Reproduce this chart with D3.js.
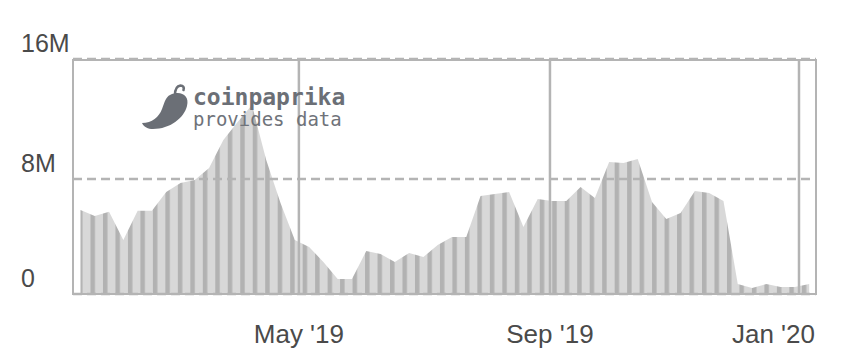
<!DOCTYPE html>
<html>
<head>
<meta charset="utf-8">
<script src="https://cdn.jsdelivr.net/npm/d3@7"></script>
<style>
  html, body { margin: 0; padding: 0; background: #fff; }
  svg { display: block; }
</style>
</head>
<body>
<svg id="chart" width="843" height="358"></svg>
<script>
// ---- data ----
const weeks = [
  "2019-01-14","2019-01-21","2019-01-28","2019-02-04","2019-02-11","2019-02-18","2019-02-25",
  "2019-03-04","2019-03-11","2019-03-18","2019-03-25","2019-04-01","2019-04-08","2019-04-15",
  "2019-04-22","2019-04-29","2019-05-06","2019-05-13","2019-05-20","2019-05-27","2019-06-03",
  "2019-06-10","2019-06-17","2019-06-24","2019-07-01","2019-07-08","2019-07-15","2019-07-22",
  "2019-07-29","2019-08-05","2019-08-12","2019-08-19","2019-08-26","2019-09-02","2019-09-09",
  "2019-09-16","2019-09-23","2019-09-30","2019-10-07","2019-10-14","2019-10-21","2019-10-28",
  "2019-11-04","2019-11-11","2019-11-18","2019-11-25","2019-12-02","2019-12-09","2019-12-16",
  "2019-12-23","2019-12-30","2020-01-06"
];
const volumeM = [
  5.93, 5.53, 5.82, 3.93, 5.89, 5.89, 7.13,
  7.73, 7.93, 8.73, 10.60, 11.80, 12.93, 9.27,
  6.40, 3.93, 3.47, 2.47, 1.33, 1.33, 3.20,
  3.00, 2.47, 3.07, 2.80, 3.60, 4.13, 4.13,
  6.87, 7.00, 7.13, 4.80, 6.67, 6.53, 6.53,
  7.47, 6.73, 9.13, 9.07, 9.33, 6.47, 5.33,
  5.73, 7.20, 7.07, 6.53, 1.00, 0.73, 1.00,
  0.80, 0.80, 1.00
];
const yTicks = [0, 8e6, 16e6];
const yTickLabels = ["0", "8M", "16M"];
const xTicks = ["2019-05-01", "2019-09-01", "2020-01-01"];
const xTickLabels = ["May '19", "Sep '19", "Jan '20"];
const xDomain = ["2019-01-10T08:00:00Z", "2020-01-09T08:00:00Z"];

// ---- layout ----
const svg = d3.select("#chart");
const L = 73, R = 816, T = 60, B = 294;
const parse = d3.utcParse("%Y-%m-%d");
const data = weeks.map((w, i) => ({ date: parse(w), value: volumeM[i] * 1e6 }));

const x = d3.scaleUtc().domain(xDomain.map(d => new Date(d))).range([L, R]);
const y = d3.scaleLinear().domain([0, 16e6]).range([299, 59]);
const yPos = d => Math.min(y(d), B);

const gridColor = "#b4b4b4";
const textColor = "#4a4a4a";

// stripes pattern
const defs = svg.append("defs");
const pat = defs.append("pattern")
  .attr("id", "stripes")
  .attr("patternUnits", "userSpaceOnUse")
  .attr("x", 78).attr("y", 0)
  .attr("width", 12.48).attr("height", 10);
pat.append("rect").attr("width", 12.48).attr("height", 10).attr("fill", "#d8d8d8");
pat.append("rect").attr("width", 4.5).attr("height", 10).attr("fill", "#b2b2b2");

defs.append("clipPath").attr("id", "plotClip")
  .append("rect").attr("x", L).attr("y", T).attr("width", R - L).attr("height", B - T);

// area
const area = d3.area()
  .x(d => x(d.date))
  .y0(y(0))
  .y1(d => y(d.value));

svg.append("path")
  .datum(data)
  .attr("d", area)
  .attr("fill", "url(#stripes)")
  .attr("clip-path", "url(#plotClip)");

// frame
svg.append("rect")
  .attr("x", L).attr("y", T).attr("width", R - L).attr("height", B - T)
  .attr("fill", "none").attr("stroke", gridColor).attr("stroke-width", 2);

// vertical gridlines
svg.append("g").selectAll("line")
  .data(xTicks.map(parse))
  .join("line")
  .attr("x1", d => x(d)).attr("x2", d => x(d))
  .attr("y1", T).attr("y2", B)
  .attr("stroke", gridColor).attr("stroke-width", 2.5);

// horizontal dashed gridlines
svg.append("g").selectAll("line")
  .data(yTicks)
  .join("line")
  .attr("x1", L).attr("x2", R)
  .attr("y1", yPos).attr("y2", yPos)
  .attr("stroke", gridColor).attr("stroke-width", 2.5)
  .attr("stroke-dasharray", "9,5");

// y labels
svg.append("g").selectAll("text")
  .data(yTicks)
  .join("text")
  .attr("x", 21)
  .attr("y", d => yPos(d) - 7)
  .attr("font-family", "'Liberation Sans', Arial, sans-serif")
  .attr("font-size", 25)
  .attr("fill", textColor)
  .text((d, i) => yTickLabels[i]);

// x labels (kept inside the plot's right edge)
svg.append("g").selectAll("text")
  .data(xTicks.map(parse))
  .join("text")
  .attr("y", 343)
  .attr("text-anchor", "middle")
  .attr("font-family", "'Liberation Sans', Arial, sans-serif")
  .attr("font-size", 26)
  .attr("fill", textColor)
  .text((d, i) => xTickLabels[i])
  .attr("x", function(d) {
    const w = this.getComputedTextLength();
    return Math.min(x(d), R - 1 - w / 2);
  });

// watermark
const wm = svg.append("g");
wm.append("path")
  .attr("d", "M170,95 C180,90 190,95 187,106 C184,118 170,129 153,129 C148,129 144,127 142,123 C152,123 159,117 162,109 C165,101 166,97 170,95 Z")
  .attr("fill", "#6b6f76");
wm.append("path")
  .attr("d", "M175,95 C175,90 177,86 180.5,85.5 C183,85.5 184.5,87.5 183.5,90")
  .attr("fill", "none").attr("stroke", "#6b6f76").attr("stroke-width", 2.6).attr("stroke-linecap", "round");
wm.append("text")
  .attr("x", 193).attr("y", 105)
  .attr("font-family", "'DejaVu Sans Mono', monospace")
  .attr("font-weight", "bold")
  .attr("font-size", 23)
  .attr("fill", "#6b6f76")
  .text("coinpaprika");
wm.append("text")
  .attr("x", 193).attr("y", 126)
  .attr("font-family", "'DejaVu Sans Mono', monospace")
  .attr("font-size", 19)
  .attr("fill", "#6f737a")
  .text("provides data");
</script>
</body>
</html>
